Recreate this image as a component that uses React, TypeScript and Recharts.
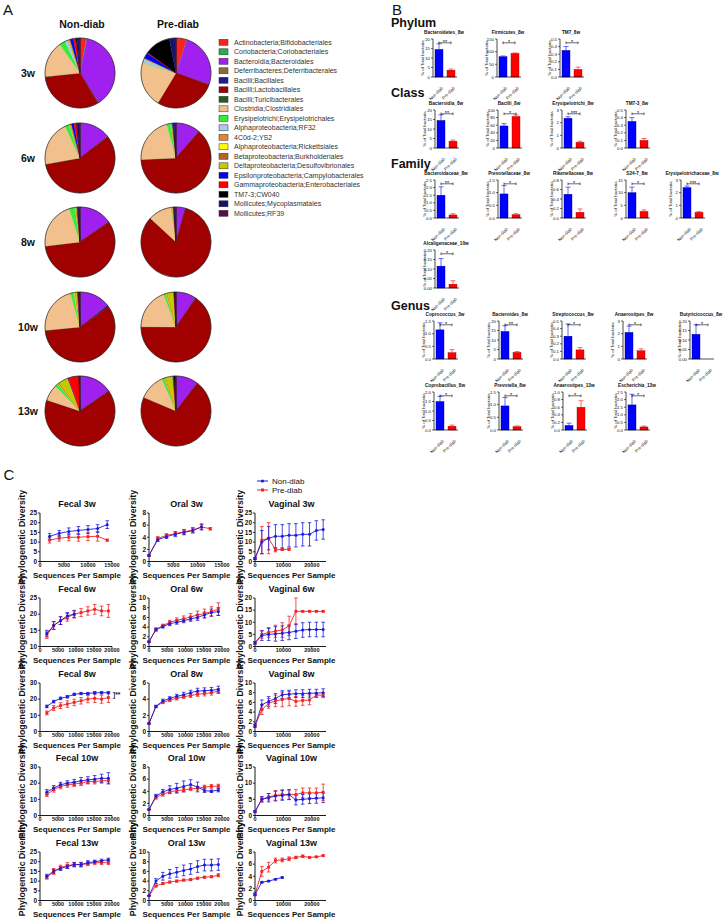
import React from "react";
import {
  PieChart,
  Pie,
  Cell,
  BarChart,
  Bar,
  XAxis,
  YAxis,
  ReferenceLine,
  LineChart,
  Line,
  ErrorBar,
} from "recharts";

const FONT = "'Liberation Sans', Arial, sans-serif";
const BLUE = "#0000ff";
const RED = "#ff0000";
const LBLUE = "#1a1ae0";
const LRED = "#f02424";

// ---------- panel A: order composition ----------
const orders = [
  "Actinobacteria;Bifidobacteriales",
  "Coriobacteria;Coriobacteriales",
  "Bacteroidia;Bacteroidales",
  "Deferribacteres;Deferribacterales",
  "Bacilli;Bacillales",
  "Bacilli;Lactobacillales",
  "Bacilli;Turicibacterales",
  "Clostridia;Clostridiales",
  "Erysipelotrichi;Erysipelotrichales",
  "Alphaproteobacteria;RF32",
  "4C0d-2;YS2",
  "Alphaproteobacteria;Rickettsiales",
  "Betaproteobacteria;Burkholderiales",
  "Deltaproteobacteria;Desulfovibrionales",
  "Epsilonproteobacteria;Campylobacterales",
  "Gammaproteobacteria;Enterobacteriales",
  "TM7-3;CW040",
  "Mollicutes;Mycoplasmatales",
  "Mollicutes;RF39",
];
const orderColors = [
  "#ff2020", "#22b14c", "#a020f0", "#8c6a3c", "#1c1c8c", "#a00000", "#1f5e1f",
  "#f2c08c", "#33ee33", "#a6c8f0", "#f08228", "#ffff00", "#b4642a", "#c8c800",
  "#0000ff", "#ff0000", "#000000", "#14146e", "#5a0a50",
];
const timepoints = ["3w", "6w", "8w", "10w", "13w"];

const nonDiab3w = [3, 0.3, 38, 0.2, 0.4, 32, 0.2, 17, 2.8, 1.5, 0.2, 0.2, 0.3, 0.3, 1.5, 1.2, 0.5, 1.2, 0.2];
const preDiab3w = [5, 0.2, 25, 0.1, 0.3, 28, 0.1, 21, 0.3, 1.5, 0.1, 0.1, 0.2, 0.2, 2.5, 0.3, 12, 3, 0.1];
const nonDiab6w = [0.2, 0.2, 14, 0.1, 0.3, 58, 0.2, 21, 2, 0.3, 0.1, 0.1, 0.3, 0.3, 1.2, 1.2, 0.2, 1.3, 0.1];
const preDiab6w = [0.1, 0.1, 11, 0.1, 0.2, 63, 0.1, 21.5, 1.8, 0.2, 0.1, 0.1, 0.2, 0.2, 0.3, 0.2, 0.3, 0.8, 0.1];
const nonDiab8w = [0.1, 0.1, 15, 0.1, 0.2, 58, 0.2, 22, 2.6, 0.2, 0.1, 0.1, 0.3, 0.3, 0.2, 0.2, 0.3, 0.5, 0.2];
const preDiab8w = [0.1, 0.1, 4, 0.1, 0.2, 83, 0.1, 11, 0.3, 0.1, 0.1, 0.1, 0.2, 0.2, 0.1, 0.1, 0.2, 0.7, 0.1];
const nonDiab10w = [0.1, 0.1, 14, 0.1, 0.8, 58, 0.2, 22, 1.5, 0.2, 0.1, 0.3, 0.3, 0.8, 0.2, 0.2, 0.5, 0.2, 0.1];
const preDiab10w = [0.1, 0.1, 9, 0.1, 0.2, 65, 0.1, 19, 1, 0.1, 0.1, 0.2, 0.3, 3, 0.1, 0.1, 0.4, 0.3, 0.1];
const nonDiab13w = [0.1, 0.1, 15, 0.1, 0.3, 65, 0.1, 7.5, 1.5, 0.1, 0.1, 0.2, 0.4, 4.5, 0.3, 4.8, 0.2, 0.3, 0.1];
const preDiab13w = [0.1, 0.1, 10, 0.1, 0.2, 71, 0.1, 12, 1.2, 0.1, 0.1, 0.2, 0.3, 3.2, 0.2, 0.3, 0.6, 0.3, 0.1];

const nonDiabPies = [nonDiab3w, nonDiab6w, nonDiab8w, nonDiab10w, nonDiab13w];
const preDiabPies = [preDiab3w, preDiab6w, preDiab8w, preDiab10w, preDiab13w];

// ---------- panel B: relative abundance bars ----------
const phylumTitles = ["Bacteroidetes_8w", "Firmicutes_8w", "TM7_8w"];
const phylumNon = [14.5, 80, 0.35];
const phylumNonSem = [3, 3, 0.05];
const phylumPre = [3.6, 93, 0.1];
const phylumPreSem = [0.6, 2, 0.03];
const phylumSig = ["**", "*", "*"];
const phylumTicks = [[0, 5, 10, 15, 20], [0, 50, 100, 150], [0, 0.1, 0.2, 0.3, 0.4, 0.5]];

const classTitles = ["Bacteroidia_8w", "Bacilli_8w", "Erysipelotrichi_8w", "TM7-3_8w"];
const classNon = [14.5, 58, 2.35, 0.35];
const classNonSem = [3, 6, 0.12, 0.05];
const classPre = [3.6, 83, 0.45, 0.1];
const classPreSem = [0.6, 4, 0.08, 0.025];
const classSig = ["**", "*", "***", "*"];
const classTicks = [[0, 5, 10, 15, 20], [0, 20, 40, 60, 80, 100], [0, 1, 2, 3], [0, 0.1, 0.2, 0.3, 0.4, 0.5]];

const familyTitles = ["Bacteroidaceae_8w", "Prevotellaceae_8w", "Rikenellaceae_8w", "S24-7_8w", "Erysipelotrichaceae_8w", "Alcaligenaceae_10w"];
const familyNon = [1.5, 0.95, 0.5, 10, 2.4, 0.115];
const familyNonSem = [0.55, 0.33, 0.15, 2.2, 0.12, 0.04];
const familyPre = [0.2, 0.13, 0.12, 2.6, 0.45, 0.02];
const familyPreSem = [0.08, 0.04, 0.07, 0.6, 0.07, 0.018];
const familySig = ["**", "*", "*", "*", "***", "*"];
const familyTicks = [
  [0, 0.5, 1, 1.5, 2, 2.5], [0, 0.5, 1, 1.5], [0, 0.2, 0.4, 0.6, 0.8],
  [0, 5, 10, 15], [0, 1, 2, 3], [0, 0.05, 0.1, 0.15, 0.2],
];

const genusTitles = [
  "Coprococcus_3w", "Bacteroides_8w", "Streptococcus_8w", "Anaerostipes_8w", "Butyricicoccus_8w",
  "Coprobacillus_8w", "Prevotella_8w", "Anaerostipes_13w", "Escherichia_13w",
];
const genusNon = [1.15, 14.5, 0.3, 2.1, 0.13, 1.5, 0.95, 0.12, 1.65];
const genusNonSem = [0.28, 3, 0.16, 0.5, 0.05, 0.27, 0.33, 0.06, 0.7];
const genusPre = [0.25, 3.5, 0.12, 0.65, 0, 0.2, 0.13, 0.6, 0.2];
const genusPreSem = [0.12, 0.5, 0.03, 0.15, 0, 0.06, 0.03, 0.17, 0.06];
const genusSig = ["*", "**", "*", "*", "*", "*", "*", "*", "*"];
const genusTicks = [
  [0, 0.5, 1, 1.5], [0, 5, 10, 15, 20], [0, 0.1, 0.2, 0.3, 0.4, 0.5], [0, 1, 2, 3],
  [0, 0.05, 0.1, 0.15, 0.2], [0, 0.5, 1, 1.5, 2], [0, 0.5, 1, 1.5],
  [0, 0.2, 0.4, 0.6, 0.8, 1], [0, 0.5, 1, 1.5, 2, 2.5],
];

// ---------- panel C: rarefaction ----------
const groups = ["Non-diab", "Pre-diab"];
const fecal3wX = [2000, 4000, 6000, 8000, 10000, 12000, 14000];
const oral3wX = [0, 1800, 3600, 5400, 7200, 9000, 10800, 12600];
const fecalX = [1900, 3800, 5700, 7600, 9500, 11400, 13300, 15200, 17100, 19000];
const oralX = [0, 1900, 3800, 5700, 7600, 9500, 11400, 13300, 15200, 17100, 19000];
const vagX = [0, 2400, 4800, 7200, 9600, 12000, 14400, 16800, 19200, 21600, 24000];

const fecal3wNon = [13, 14.5, 15.5, 16, 16.5, 17, 19];
const fecal3wNonSd = [1.5, 1.5, 1.8, 2, 2, 2, 2];
const fecal3wPre = [11, 12, 12.5, 12.5, 12.8, 13, 11];
const fecal3wPreSd = [1.5, 1.5, 1.8, 2, 2, 2.5, 0.5];
const oral3wNon = [1, 3.6, 4.1, 4.5, 4.8, 5.1, 5.7, null];
const oral3wNonSd = [0.1, 0.3, 0.3, 0.4, 0.4, 0.4, 0.5, null];
const oral3wPre = [1, 3.8, 4.3, 4.6, 4.9, 5.2, 5.7, 5.4];
const oral3wPreSd = [0.1, 0.3, 0.3, 0.3, 0.4, 0.4, 0.4, 0.2];
const vag3wNon = [1.5, 10, 12, 13, 13, 13.5, 13.5, 14, 14, 16, 16.5];
const vag3wNonSd = [0.5, 6, 6, 6, 6, 6, 6, 6, 6, 5, 5];
const vag3wPre = [1.5, 11, 12, 6, 6.2, 6.3, null, null, null, null, null];
const vag3wPreSd = [0.5, 7, 8, 1, 0.5, 0.5, null, null, null, null, null];

const fecal6wNon = [14, 16.5, 18, 19.5, 20, null, null, null, null, null];
const fecal6wNonSd = [1, 1.2, 1.2, 1, 1, null, null, null, null, null];
const fecal6wPre = [13.5, 16.5, 18, 19, 20, 20.5, 21, 21.5, 21, 21];
const fecal6wPreSd = [1, 1.2, 1.2, 1.2, 1.2, 1.2, 1.3, 1.5, 1.5, 2];
const oral6wNon = [1, 3.5, 4.1, 4.7, 5.0, 5.3, 5.7, 6.0, 6.5, 7.0, 7.2];
const oral6wNonSd = [0.1, 0.3, 0.3, 0.4, 0.4, 0.4, 0.5, 0.6, 0.6, 0.7, 0.8];
const oral6wPre = [1, 3.5, 4.3, 5.0, 5.4, 5.7, 6.1, 6.5, 6.8, 7.2, 7.7];
const oral6wPreSd = [0.1, 0.3, 0.3, 0.4, 0.5, 0.6, 0.7, 0.8, 0.9, 1.0, 1.3];
const vag6wNon = [1.5, 4.5, 5, 5.2, 5.5, 5.8, 6.3, 6.8, 7, 7, 7];
const vag6wNonSd = [0.5, 2, 2.5, 3, 3, 3, 3, 3, 3, 3, 3];
const vag6wPre = [1.5, 5, 5.8, 6.3, 6.8, 8.5, 14.5, 14.5, 14.5, 14.5, 14.5];
const vag6wPreSd = [0.5, 1.5, 2, 2.5, 3, 4, 5.5, 0.2, 0.2, 0.2, 0.2];

const fecal8wNon = [15.5, 18.5, 20.5, 21.5, 23, 23.5, 23.5, 24, 24, 24];
const fecal8wNonSd = [0.8, 0.8, 0.8, 0.8, 0.7, 0.7, 0.7, 0.7, 0.7, 0.7];
const fecal8wPre = [11.5, 14.5, 16, 17, 18, 19, 20, 20.5, 20, 21];
const fecal8wPreSd = [1.2, 1.5, 1.8, 2, 2, 2, 2.2, 2.5, 2.5, 3];
const oral8wNon = [1, 3.1, 3.8, 4.1, 4.35, 4.55, 4.8, 5.0, 5.05, 5.1, 5.2];
const oral8wNonSd = [0.05, 0.15, 0.2, 0.2, 0.25, 0.3, 0.3, 0.35, 0.35, 0.35, 0.4];
const oral8wPre = [1, 3.1, 3.6, 3.9, 4.1, 4.3, 4.45, 4.6, 4.7, 4.8, 5.0];
const oral8wPreSd = [0.05, 0.1, 0.15, 0.2, 0.2, 0.2, 0.25, 0.25, 0.3, 0.3, 0.3];
const vag8wNon = [1.2, 5.5, 6.2, 6.8, 7.6, 7.7, 7.8, 7.8, 7.9, 7.9, 8.0];
const vag8wNonSd = [0.3, 1, 1, 1, 0.8, 0.8, 0.8, 0.8, 0.8, 0.8, 0.8];
const vag8wPre = [1.2, 4.5, 5.8, 6.3, 6.6, 6.8, 6.2, 6.4, 6.5, 7.5, 7.5];
const vag8wPreSd = [0.3, 1, 1, 1.2, 1.5, 1.5, 1, 1, 1, 0.5, 0.5];

const fecal10wNon = [14.5, 17, 19, 20, 20.5, 21.5, 22, 22.5, 23, 23];
const fecal10wNonSd = [1.5, 1.5, 1.5, 1.5, 1.8, 2, 2, 2.2, 2.5, 3.5];
const fecal10wPre = [13, 16, 18, 19, 19.5, 20, 21, 21, 21.5, 21.5];
const fecal10wPreSd = [1.2, 1.5, 1.5, 1.5, 1.5, 1.5, 1.5, 1.5, 1.5, 1.5];
const oral10wNon = [1, 3.2, 3.9, 4.3, 4.5, 4.8, 5.1, 4.7, 4.1, 4.0, 4.2];
const oral10wNonSd = [0.05, 0.3, 0.4, 0.6, 0.8, 0.9, 0.8, 0.8, 0.3, 0.2, 0.3];
const oral10wPre = [1, 3.0, 3.5, 3.9, 4.1, 4.2, 4.4, 4.5, 4.7, 4.8, 4.85];
const oral10wPreSd = [0.05, 0.3, 0.3, 0.3, 0.3, 0.3, 0.3, 0.3, 0.3, 0.3, 0.3];
const vag10wNon = [1.2, 5.0, 5.5, 6.0, 6.2, 6.5, 4.8, 5.0, 5.2, 5.3, 5.5];
const vag10wNonSd = [0.3, 0.8, 1.3, 1.5, 1.5, 1.5, 1.5, 1.5, 1.5, 1.5, 1.5];
const vag10wPre = [1.2, 5.0, 5.8, 6.2, 6.5, 6.4, 6.5, 7.0, 7.0, 7.0, 7.2];
const vag10wPreSd = [0.3, 0.8, 1, 1.5, 1.5, 1.5, 1.5, 1.5, 1.5, 1.5, 2.5];

const fecal13wNon = [12.5, 15, 16.5, 17.5, 18.5, 18.5, 19.5, 20, 20.5, 21];
const fecal13wNonSd = [1, 1, 1, 1, 1, 1, 1, 0.8, 0.8, 0.8];
const fecal13wPre = [12, 15, 17, 18, 18.5, 18.5, 19, 19.5, 19.5, 19.5];
const fecal13wPreSd = [1, 1.5, 1.2, 1.5, 1.2, 1.2, 1, 1, 1, 1];
const oral13wNon = [1, 4.0, 5.0, 5.5, 5.8, 6.2, 6.5, 7.0, 7.3, 7.3, 7.4];
const oral13wNonSd = [0.05, 0.5, 0.8, 0.9, 1, 1.1, 1.1, 1.2, 1.2, 1.2, 1.2];
const oral13wPre = [1, 3.0, 3.5, 3.8, 4.0, 4.2, 4.3, 4.6, 4.8, 4.9, 5.2];
const oral13wPreSd = [0.05, 0.2, 0.2, 0.2, 0.2, 0.2, 0.2, 0.2, 0.2, 0.2, 0.3];
const vag13wNon = [1, 3.0, 3.2, 3.5, 3.8, null, null, null, null, null, null];
const vag13wNonSd = [0.2, 0.1, 0.1, 0.1, 0.1, null, null, null, null, null, null];
const vag13wPre = [1, 4.8, 5.5, 6.6, 6.7, 6.9, 7.1, 7.3, 7.1, 7.2, 7.4];
const vag13wPreSd = [0.2, 0.8, 0.8, 0.4, 0.3, 0.3, 0.2, 0.2, 0.1, 0.1, 0.1];

const fecalYTicks = [[0, 5, 10, 15, 20, 25], [10, 15, 20, 25], [0, 10, 20, 30], [0, 10, 20, 30], [0, 5, 10, 15, 20, 25]];
const oralYTicks = [[0, 2, 4, 6, 8], [0, 2, 4, 6, 8, 10], [0, 2, 4, 6], [0, 2, 4, 6, 8], [0, 2, 4, 6, 8, 10]];
const vagYTicks = [[0, 5, 10, 15, 20, 25], [0, 5, 10, 15, 20], [0, 2, 4, 6, 8, 10], [0, 5, 10, 15], [0, 2, 4, 6, 8]];
const seqTicks15 = [0, 5000, 10000, 15000];
const seqTicks20 = [0, 5000, 10000, 15000, 20000];
const vagTicks = [0, 10000, 20000];

// ---------- helpers ----------
const fmtFor = (ticks: number[]) => {
  const step = ticks[1] - ticks[0];
  const d = step >= 1 ? 0 : step >= 0.1 ? 1 : 2;
  return (v: number) => v.toFixed(d);
};

function SlantTick(props: any) {
  const { x, y, payload } = props;
  const tx = x + 2;
  const ty = y + 1;
  return (
    <text
      x={tx}
      y={ty}
      transform={`rotate(-45 ${tx} ${ty})`}
      textAnchor="end"
      dominantBaseline="hanging"
      fontSize={4.3}
      fill="#111"
      fontFamily={FONT}
    >
      {payload.value}
    </text>
  );
}

function BarErr(p: any) {
  const { x, y, width, height, index, payload } = p;
  const c = index === 0 ? BLUE : RED;
  const edge = index === 0 ? "#00007a" : "#a00000";
  const v = payload.value;
  const e = payload.err;
  const h = Math.max(height || 0, 0);
  const cx = x + width / 2;
  let whisker = null;
  if (v > 0 && e > 0) {
    const ey = y - (e * h) / v;
    whisker = (
      <g stroke={c} strokeWidth={0.8} opacity={0.75}>
        <line x1={cx} x2={cx} y1={y} y2={ey} />
        <line x1={cx - 2.5} x2={cx + 2.5} y1={ey} y2={ey} />
      </g>
    );
  }
  return (
    <g>
      {h > 0 && <rect x={x} y={y} width={width} height={h} fill={c} stroke={edge} strokeWidth={0.4} />}
      {whisker}
    </g>
  );
}

function MiniBar(props: {
  non: number; nonErr: number; pre: number; preErr: number; sig: string; ticks: number[];
  axisX: number; plotTop: number;
}) {
  const { non, nonErr, pre, preErr, sig, ticks, axisX, plotTop } = props;
  const data = [
    { name: groups[0], value: non, err: nonErr },
    { name: groups[1], value: pre, err: preErr },
  ];
  const max = ticks[ticks.length - 1];
  const by = max * 0.9;
  const tk = max * 0.035;
  const YW = 14;
  const TOP = 6;
  return (
    <div style={{ position: "absolute", left: axisX - YW, top: plotTop - TOP }}>
      <BarChart
        width={YW + 26}
        height={TOP + 38 + 16}
        data={data}
        margin={{ top: TOP, right: 2, left: 0, bottom: 0 }}
        barSize={8}
      >
        <XAxis
          dataKey="name"
          height={16}
          interval={0}
          tickLine={false}
          tick={<SlantTick />}
          axisLine={{ stroke: "#000", strokeWidth: 0.7 }}
        />
        <YAxis
          width={YW}
          domain={[0, max]}
          ticks={ticks}
          interval={0}
          tickSize={2}
          tickMargin={1}
          tickFormatter={fmtFor(ticks)}
          tick={{ fontSize: 4.3, fill: "#111", fontFamily: FONT }}
          axisLine={{ stroke: "#000", strokeWidth: 0.7 }}
          tickLine={{ stroke: "#000", strokeWidth: 0.6 }}
        />
        <Bar dataKey="value" isAnimationActive={false} shape={(p: any) => <BarErr {...p} />} />
        <ReferenceLine
          segment={[{ x: groups[0], y: by }, { x: groups[1], y: by }]}
          stroke="#000"
          strokeWidth={0.6}
          label={{ value: sig, position: "top", offset: -1.5, fontSize: 5.5, fill: "#000", fontFamily: FONT }}
        />
        <ReferenceLine segment={[{ x: groups[0], y: by - tk }, { x: groups[0], y: by + tk }]} stroke="#000" strokeWidth={0.6} />
        <ReferenceLine segment={[{ x: groups[1], y: by - tk }, { x: groups[1], y: by + tk }]} stroke="#000" strokeWidth={0.6} />
      </BarChart>
    </div>
  );
}

const squareDot = (color: string) => (p: any) => {
  if (p.cy == null || p.value == null) return <g key={p.index} />;
  return <rect key={p.index} x={p.cx - 1.4} y={p.cy - 1.4} width={2.8} height={2.8} fill={color} />;
};
const roundDot = (color: string) => (p: any) => {
  if (p.cy == null || p.value == null) return <g key={p.index} />;
  return <circle key={p.index} cx={p.cx} cy={p.cy} r={1.5} fill={color} />;
};

function Rarefaction(props: {
  xs: number[]; non: (number | null)[]; nonSd: (number | null)[]; pre: (number | null)[]; pre_sd: (number | null)[];
  xMax: number; xTicks: number[]; yTicks: number[]; axisX: number; plotTop: number; plotW: number;
}) {
  const { xs, non, nonSd, pre, pre_sd, xMax, xTicks, yTicks, axisX, plotTop, plotW } = props;
  const data = xs.map((x, i) => ({
    x,
    non: non[i] ?? null,
    nonSd: non[i] == null ? null : nonSd[i],
    pre: pre[i] ?? null,
    preSd: pre[i] == null ? null : pre_sd[i],
  }));
  const YW = 13;
  const TOP = 5;
  const PH = 48.5;
  return (
    <div style={{ position: "absolute", left: axisX - YW, top: plotTop - TOP }}>
      <LineChart
        width={YW + plotW + 9}
        height={TOP + PH + 10}
        data={data}
        margin={{ top: TOP, right: 9, left: 0, bottom: 0 }}
      >
        <XAxis
          type="number"
          dataKey="x"
          domain={[0, xMax]}
          ticks={xTicks}
          interval={0}
          height={10}
          tickSize={2}
          tickMargin={0}
          tick={{ fontSize: 5.5, fontWeight: 700, fill: "#111", fontFamily: FONT }}
          axisLine={{ stroke: "#000", strokeWidth: 0.9 }}
          tickLine={{ stroke: "#000", strokeWidth: 0.8 }}
        />
        <YAxis
          width={YW}
          domain={[yTicks[0], yTicks[yTicks.length - 1]]}
          ticks={yTicks}
          interval={0}
          tickSize={2}
          tickMargin={1}
          tick={{ fontSize: 6.5, fontWeight: 700, fill: "#111", fontFamily: FONT }}
          axisLine={{ stroke: "#000", strokeWidth: 0.9 }}
          tickLine={{ stroke: "#000", strokeWidth: 0.8 }}
        />
        <Line
          dataKey="pre"
          stroke={LRED}
          strokeWidth={0.9}
          dot={squareDot(LRED)}
          activeDot={false}
          isAnimationActive={false}
        >
          <ErrorBar dataKey="preSd" direction="y" width={1.8} stroke={LRED} strokeWidth={0.8} />
        </Line>
        <Line
          dataKey="non"
          stroke={LBLUE}
          strokeWidth={0.9}
          dot={roundDot(LBLUE)}
          activeDot={false}
          isAnimationActive={false}
        >
          <ErrorBar dataKey="nonSd" direction="y" width={1.8} stroke={LBLUE} strokeWidth={0.8} />
        </Line>
      </LineChart>
    </div>
  );
}

// ---------- layout ----------
const pieY = [73, 158, 242, 327, 411];
const pieX = [80, 176];
const phylumPos = [[433, 39], [497, 39], [560, 39]];
const classPos = [[435, 110], [498, 110], [562, 110], [626, 110]];
const familyPos = [[435, 180], [498, 180], [562, 180], [626, 180], [681, 180], [435, 250]];
const genusPos = [
  [434, 321], [499, 321], [562, 321], [623, 321], [690, 321],
  [434, 392], [499, 392], [563, 392], [626, 392],
];
const cAxisX = [40, 149, 255];
const cPlotW = [72, 73, 71];
const cYLabX = [22, 133, 240];
const cRowTop = (r: number) => 513 + 84.75 * r;

const barRows = [
  { titles: phylumTitles, non: phylumNon, nonErr: phylumNonSem, pre: phylumPre, preErr: phylumPreSem, sig: phylumSig, ticks: phylumTicks, pos: phylumPos },
  { titles: classTitles, non: classNon, nonErr: classNonSem, pre: classPre, preErr: classPreSem, sig: classSig, ticks: classTicks, pos: classPos },
  { titles: familyTitles, non: familyNon, nonErr: familyNonSem, pre: familyPre, preErr: familyPreSem, sig: familySig, ticks: familyTicks, pos: familyPos },
  { titles: genusTitles, non: genusNon, nonErr: genusNonSem, pre: genusPre, preErr: genusPreSem, sig: genusSig, ticks: genusTicks, pos: genusPos },
];

const cPanels = [
  [
    { title: "Fecal 3w", xs: fecal3wX, non: fecal3wNon, nonSd: fecal3wNonSd, pre: fecal3wPre, preSd: fecal3wPreSd, xMax: 15000, xTicks: seqTicks15 },
    { title: "Oral 3w", xs: oral3wX, non: oral3wNon, nonSd: oral3wNonSd, pre: oral3wPre, preSd: oral3wPreSd, xMax: 15000, xTicks: seqTicks15 },
    { title: "Vaginal 3w", xs: vagX, non: vag3wNon, nonSd: vag3wNonSd, pre: vag3wPre, preSd: vag3wPreSd, xMax: 25000, xTicks: vagTicks },
  ],
  [
    { title: "Fecal 6w", xs: fecalX, non: fecal6wNon, nonSd: fecal6wNonSd, pre: fecal6wPre, preSd: fecal6wPreSd, xMax: 20000, xTicks: seqTicks20 },
    { title: "Oral 6w", xs: oralX, non: oral6wNon, nonSd: oral6wNonSd, pre: oral6wPre, preSd: oral6wPreSd, xMax: 20000, xTicks: seqTicks20 },
    { title: "Vaginal 6w", xs: vagX, non: vag6wNon, nonSd: vag6wNonSd, pre: vag6wPre, preSd: vag6wPreSd, xMax: 25000, xTicks: vagTicks },
  ],
  [
    { title: "Fecal 8w", xs: fecalX, non: fecal8wNon, nonSd: fecal8wNonSd, pre: fecal8wPre, preSd: fecal8wPreSd, xMax: 20000, xTicks: seqTicks20 },
    { title: "Oral 8w", xs: oralX, non: oral8wNon, nonSd: oral8wNonSd, pre: oral8wPre, preSd: oral8wPreSd, xMax: 20000, xTicks: seqTicks20 },
    { title: "Vaginal 8w", xs: vagX, non: vag8wNon, nonSd: vag8wNonSd, pre: vag8wPre, preSd: vag8wPreSd, xMax: 25000, xTicks: vagTicks },
  ],
  [
    { title: "Fecal 10w", xs: fecalX, non: fecal10wNon, nonSd: fecal10wNonSd, pre: fecal10wPre, preSd: fecal10wPreSd, xMax: 20000, xTicks: seqTicks20 },
    { title: "Oral 10w", xs: oralX, non: oral10wNon, nonSd: oral10wNonSd, pre: oral10wPre, preSd: oral10wPreSd, xMax: 20000, xTicks: seqTicks20 },
    { title: "Vaginal 10w", xs: vagX, non: vag10wNon, nonSd: vag10wNonSd, pre: vag10wPre, preSd: vag10wPreSd, xMax: 25000, xTicks: vagTicks },
  ],
  [
    { title: "Fecal 13w", xs: fecalX, non: fecal13wNon, nonSd: fecal13wNonSd, pre: fecal13wPre, preSd: fecal13wPreSd, xMax: 20000, xTicks: seqTicks20 },
    { title: "Oral 13w", xs: oralX, non: oral13wNon, nonSd: oral13wNonSd, pre: oral13wPre, preSd: oral13wPreSd, xMax: 20000, xTicks: seqTicks20 },
    { title: "Vaginal 13w", xs: vagX, non: vag13wNon, nonSd: vag13wNonSd, pre: vag13wPre, preSd: vag13wPreSd, xMax: 25000, xTicks: vagTicks },
  ],
];
const cYTicks = [fecalYTicks, oralYTicks, vagYTicks];

export default function App() {
  const pies: React.ReactNode[] = [];
  timepoints.forEach((t, r) => {
    [nonDiabPies[r], preDiabPies[r]].forEach((vals, c) => {
      const slices = vals.map((v, i) => ({ name: orders[i], v }));
      pies.push(
        <Pie
          key={`p-${t}-${c}`}
          data={slices}
          dataKey="v"
          cx={pieX[c]}
          cy={pieY[r]}
          outerRadius={35}
          startAngle={90}
          endAngle={-270}
          isAnimationActive={false}
        >
          {slices.map((s, i) => (
            <Cell key={s.name} fill={orderColors[i]} stroke={orderColors[i]} strokeWidth={0.3} />
          ))}
        </Pie>
      );
      pies.push(
        <Pie
          key={`o-${t}-${c}`}
          data={[{ v: 1 }]}
          dataKey="v"
          cx={pieX[c]}
          cy={pieY[r]}
          outerRadius={35}
          startAngle={90}
          endAngle={-270}
          isAnimationActive={false}
        >
          <Cell fill="none" stroke="#222" strokeWidth={0.7} />
        </Pie>
      );
    });
  });

  const texts: React.ReactNode[] = [];
  const T = (key: string, x: number, y: number, s: string, size: number, opts: any = {}) =>
    texts.push(
      <text
        key={key}
        x={x}
        y={y}
        fontSize={size}
        fontWeight={opts.bold ? 700 : 400}
        textAnchor={opts.anchor || "middle"}
        dominantBaseline="central"
        fill={opts.fill || "#111"}
        transform={opts.rot ? `rotate(${opts.rot} ${x} ${y})` : undefined}
      >
        {s}
      </text>
    );

  // panel letters
  T("A", 8, 9, "A", 15);
  T("B", 397, 9, "B", 15);
  T("C", 9, 474, "C", 15);

  // panel A labels
  T("nd", pieX[0] + 2, 24, "Non-diab", 10.5, { bold: true });
  T("pd", pieX[1] + 2, 24, "Pre-diab", 10.5, { bold: true });
  timepoints.forEach((t, r) => T(`tp${t}`, 28, pieY[r], t, 10.5, { bold: true }));
  orders.forEach((o, i) => T(`lg${i}`, 234, 42.3 + 9.5 * i, o, 7, { anchor: "start", fill: "#333" }));

  // panel B labels
  T("ph", 391, 23, "Phylum", 12.5, { bold: true, anchor: "start" });
  T("cl", 391, 93, "Class", 12.5, { bold: true, anchor: "start" });
  T("fa", 391, 164, "Family", 12.5, { bold: true, anchor: "start" });
  T("ge", 391, 306, "Genus", 12.5, { bold: true, anchor: "start" });
  barRows.forEach((row, ri) =>
    row.titles.forEach((t, i) => {
      const [ax, pt] = row.pos[i];
      T(`bt${ri}-${i}`, ax + 11, pt - 7, t, 4.7, { bold: true });
      T(`by${ri}-${i}`, ax - 11, pt + 19, "% of Total bacteria", 4.3, { rot: -90 });
    })
  );

  // panel C labels
  cPanels.forEach((row, r) =>
    row.forEach((p, c) => {
      const top = cRowTop(r);
      const mid = cAxisX[c] + cPlotW[c] / 2;
      const yMid = r === cPanels.length - 1 ? top + 17 : top + 24;
      T(`ct${r}-${c}`, mid + 1, top - 9, p.title, 9, { bold: true });
      T(`cx${r}-${c}`, mid + 1, top + 62.5, "Sequences Per Sample", 8, { bold: true });
      T(`cy${r}-${c}`, cYLabX[c], yMid, "Phylogenetic Diversity", 8.8, { bold: true, rot: -90 });
    })
  );
  T("sig8", 113, cRowTop(2) + 11.5, "]**", 6.5, { anchor: "start", bold: true });
  T("lgn", 272, 481, groups[0], 8, { anchor: "start" });
  T("lgp", 272, 490, groups[1], 8, { anchor: "start" });

  return (
    <div
      style={{
        position: "absolute",
        left: 0,
        top: 0,
        width: 725,
        height: 919,
        background: "#fff",
        overflow: "hidden",
        fontFamily: FONT,
      }}
    >
      <style>{`.recharts-surface{overflow:visible}.recharts-wrapper{overflow:visible}`}</style>
      <div style={{ position: "absolute", left: 0, top: 0 }}>
        <PieChart width={215} height={455} margin={{ top: 0, right: 0, bottom: 0, left: 0 }}>
          {pies}
        </PieChart>
      </div>

      {barRows.map((row, ri) =>
        row.titles.map((t, i) => (
          <MiniBar
            key={`${ri}-${t}`}
            non={row.non[i]}
            nonErr={row.nonErr[i]}
            pre={row.pre[i]}
            preErr={row.preErr[i]}
            sig={row.sig[i]}
            ticks={row.ticks[i]}
            axisX={row.pos[i][0]}
            plotTop={row.pos[i][1]}
          />
        ))
      )}

      {cPanels.map((row, r) =>
        row.map((p, c) => (
          <Rarefaction
            key={p.title}
            xs={p.xs}
            non={p.non}
            nonSd={p.nonSd}
            pre={p.pre}
            pre_sd={p.preSd}
            xMax={p.xMax}
            xTicks={p.xTicks}
            yTicks={cYTicks[c][r]}
            axisX={cAxisX[c]}
            plotTop={cRowTop(r)}
            plotW={cPlotW[c]}
          />
        ))
      )}

      <svg
        width={725}
        height={919}
        style={{ position: "absolute", left: 0, top: 0, pointerEvents: "none", fontFamily: FONT }}
      >
        {orderColors.map((col, i) => (
          <rect key={col + i} x={219} y={42.3 + 9.5 * i - 3} width={9} height={6} fill={col} stroke="#333" strokeWidth={0.5} />
        ))}
        <line x1={257} x2={268} y1={481} y2={481} stroke={LBLUE} strokeWidth={1} />
        <circle cx={262.5} cy={481} r={1.6} fill={LBLUE} />
        <line x1={257} x2={268} y1={490} y2={490} stroke={LRED} strokeWidth={1} />
        <rect x={261} y={488.5} width={3} height={3} fill={LRED} />
        {texts}
      </svg>
    </div>
  );
}
